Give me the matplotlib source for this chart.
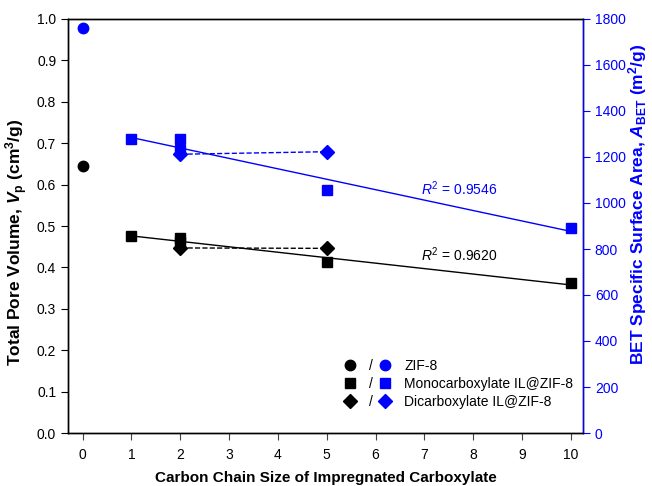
import numpy as np
import matplotlib
matplotlib.use("Agg")
import matplotlib.pyplot as plt
from matplotlib.lines import Line2D

plt.rcParams['font.family'] = ['Liberation Sans', 'DejaVu Sans']
plt.rcParams['mathtext.fontset'] = 'custom'
plt.rcParams['mathtext.rm'] = 'Liberation Sans'
plt.rcParams['mathtext.it'] = 'Liberation Sans:italic'
plt.rcParams['mathtext.bf'] = 'Liberation Sans:bold'
try:
    plt.rcParams['mathtext.bfit'] = 'Liberation Sans:bold:italic'
except KeyError:
    pass

# ---- data ----
zif_x = [0]
zif_vp = [0.646]
zif_abet = [1762]

mono_x = [1, 2, 2, 5, 10]
mono_vp = [0.477, 0.470, 0.462, 0.412, 0.362]
mono_abet = [1280, 1280, 1232, 1058, 893]

di_x = [2, 5]
di_vp = [0.447, 0.446]
di_abet = [1212, 1223]

r2_vp = "0.9620"
r2_abet = "0.9546"

xticks = list(range(0, 11))
yticks_left = np.round(np.arange(0, 1.01, 0.1), 1)
yticks_right = list(range(0, 1801, 200))

BLUE = '#0000ff'

fig = plt.figure(figsize=(6.52, 4.86), dpi=100)
ax = fig.add_axes([68/652, 1-433/486, (583-68)/652, (433-19)/486])
ax2 = ax.twinx()

# black (left axis)
ax.plot(zif_x, zif_vp, 'o', color='black', ms=7.5, zorder=5)
ax.plot(mono_x, mono_vp, 's', color='black', ms=6.5, zorder=5)
ax.plot(di_x, di_vp, 'D', color='black', ms=7, zorder=5)
ax.plot(di_x, di_vp, '--', color='black', lw=1, zorder=4)
p = np.polyfit(mono_x, mono_vp, 1)
xf = np.array([min(mono_x), max(mono_x)])
ax.plot(xf, np.polyval(p, xf), '-', color='black', lw=1, zorder=4)

# blue (right axis)
ax2.plot(zif_x, zif_abet, 'o', color=BLUE, ms=7.5, zorder=5)
ax2.plot(mono_x, mono_abet, 's', color=BLUE, ms=6.5, zorder=5)
ax2.plot(di_x, di_abet, 'D', color=BLUE, ms=7, zorder=5)
ax2.plot(di_x, di_abet, '--', color=BLUE, lw=1, zorder=4)
p2 = np.polyfit(mono_x, mono_abet, 1)
ax2.plot(xf, np.polyval(p2, xf), '-', color=BLUE, lw=1, zorder=4)

ax.set_xlim(-0.3, 10.25)
ax.set_ylim(0, 1.0)
ax2.set_ylim(0, 1800)
ax.set_xticks(xticks)
ax.set_yticks(yticks_left)
ax.set_yticklabels([f"{v:.1f}" for v in yticks_left])
ax2.set_yticks(yticks_right)

ax.tick_params(axis='both', direction='out', length=5, width=0.8, labelsize=10)
ax.tick_params(axis='x', pad=6, color='#444444')
ax2.tick_params(axis='y', direction='out', length=5, width=0.8, labelsize=10,
                colors=BLUE)
for a in (ax, ax2):
    for s in a.spines.values():
        s.set_linewidth(1.0)
ax2.spines['right'].set_color(BLUE)

ax.set_xlabel('Carbon Chain Size of Impregnated Carboxylate', fontsize=11,
              fontweight='bold', labelpad=6)
ax.set_ylabel(r'Total Pore Volume, $\mathbfit{V}_{\mathbf{p}}$ (cm$^{\mathbf{3}}$/g)',
              fontsize=12.5, fontweight='bold', labelpad=5)
ax.yaxis.label.set_y(0.461)
ax2.set_ylabel(r'BET Specific Surface Area, $\mathbfit{A}_{\mathbf{BET}}$ (m$^{\mathbf{2}}$/g)',
               fontsize=12.5, fontweight='bold', color=BLUE, rotation=90, labelpad=0)
ax2.yaxis.label.set_y(0.552)

ax2.text(7.72, 1060, r'$R^2$ = ' + r2_abet, color=BLUE, fontsize=10,
         ha='center', va='center')
ax.text(7.72, 0.431, r'$R^2$ = ' + r2_vp, color='black', fontsize=10,
        ha='center', va='center')

handles = [
    Line2D([], [], ls='none', marker='o', color='black', ms=7.5),
    Line2D([], [], ls='none', marker='s', color='black', ms=6.5),
    Line2D([], [], ls='none', marker='D', color='black', ms=7),
    Line2D([], [], ls='none', marker='o', color=BLUE, ms=7.5),
    Line2D([], [], ls='none', marker='s', color=BLUE, ms=6.5),
    Line2D([], [], ls='none', marker='D', color=BLUE, ms=7),
]
labels = ['/', '/', '/', 'ZIF-8', 'Monocarboxylate IL@ZIF-8', 'Dicarboxylate IL@ZIF-8']
leg = ax2.legend(handles, labels, ncol=2, loc='upper left',
                 bbox_to_anchor=((343-68)/515, (433-359)/414),
                 frameon=False, fontsize=10, handlelength=1.0,
                 handletextpad=0.9, columnspacing=0.33, labelspacing=0.3,
                 borderpad=0, borderaxespad=0)

fig.savefig('out.png', dpi=100)
